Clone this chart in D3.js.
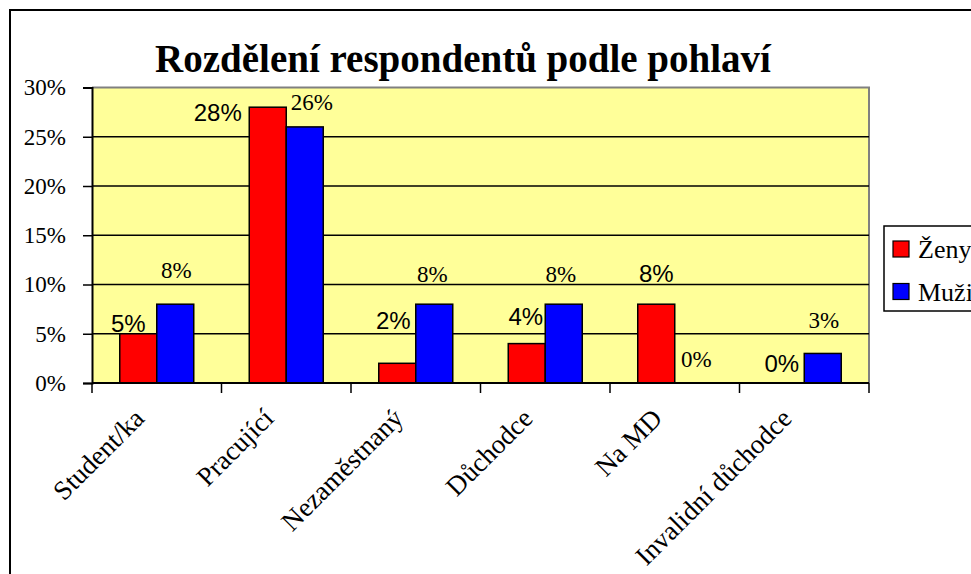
<!DOCTYPE html>
<html>
<head>
<meta charset="utf-8">
<script src="https://cdn.jsdelivr.net/npm/d3@7"></script>
<style>
  body { margin: 0; background: #fff; }
  svg { display: block; }
</style>
</head>
<body>
<svg id="chart_svg" width="971" height="574"></svg>
<script>
// data
var categories = ["Student/ka", "Pracující", "Nezaměstnaný", "Důchodce", "Na MD", "Invalidní důchodce"];
var series = ["Ženy", "Muži"];
var zeny = [5, 28, 2, 4, 8, 0];
var muzi = [8, 26, 8, 8, 0, 3];
var yTicks = [0, 5, 10, 15, 20, 25, 30];

// label nudges (dx, dy from bar top centre), dragged by hand in the original
var zenyNudge = [[-10, -2], [-50, 14], [-4, -34], [-1, -19], [0, -22], [-4, -11]];
var muziNudge = [[1, -26], [7, -17], [-2, -22], [-3, -22], [3, -16], [1, -25]];

var g_colors = { "Ženy": "#ff0000", "Muži": "#0000ff" };
var g_plot = { left: 92, right: 869, top: 87.5, bottom: 383 };
var SERIF = "'Liberation Serif', 'Times New Roman', serif";
var SANS = "'Liberation Sans', Arial, sans-serif";

draw_chart();

function draw_chart() {
    var svg = d3.select("#chart_svg");

    // outer frame (runs off the right / bottom edge)
    svg.append("rect")
        .attr("x", 10).attr("y", 10).attr("width", 1000).attr("height", 600)
        .attr("style", "fill:#fff; stroke:#000; stroke-width:2");

    // title
    svg.append("text")
        .attr("x", 463).attr("y", 72)
        .attr("text-anchor", "middle")
        .attr("font-family", SERIF).attr("font-size", 39).attr("font-weight", "bold")
        .text("Rozdělení respondentů podle pohlaví");

    // scales
    var x = d3.scaleBand().domain(categories).range([g_plot.left, g_plot.right]).padding(0);
    var xs = d3.scaleBand().domain(series).range([0, x.bandwidth()]).paddingInner(0).paddingOuter(0.75);
    var y = d3.scaleLinear().domain([0, 30]).range([g_plot.bottom, g_plot.top]);

    // plot area
    svg.append("rect")
        .attr("x", g_plot.left).attr("y", g_plot.top)
        .attr("width", g_plot.right - g_plot.left).attr("height", g_plot.bottom - g_plot.top)
        .attr("style", "fill:#ffff99; stroke:none");
    svg.append("path")
        .attr("d", "M" + g_plot.left + "," + g_plot.top + "H" + g_plot.right + "V" + g_plot.bottom)
        .attr("style", "fill:none; stroke:#808080; stroke-width:2");

    // gridlines
    svg.selectAll(".grid").data(yTicks.filter(d => d > 0 && d < 30)).join("line").classed("grid", true)
        .attr("x1", g_plot.left).attr("x2", g_plot.right)
        .attr("y1", d => y(d)).attr("y2", d => y(d))
        .attr("style", "stroke:#000; stroke-width:1.5");

    // bars
    var rows = categories.map((c, i) => ({ cat: c, vals: [zeny[i], muzi[i]] }));
    var grp = svg.selectAll(".grp").data(rows).join("g").classed("grp", true)
        .attr("transform", d => "translate(" + x(d.cat) + ",0)");
    grp.selectAll("rect").data(d => series.map((s, k) => ({ s: s, v: d.vals[k] })))
        .join("rect")
        .attr("x", d => xs(d.s)).attr("width", xs.bandwidth())
        .attr("y", d => y(d.v)).attr("height", d => y(0) - y(d.v))
        .attr("style", d => "fill:" + g_colors[d.s] + "; stroke:#000; stroke-width:1.5");

    // y axis
    var yAxis = d3.axisLeft(y).tickValues(yTicks).tickSize(9).tickPadding(17).tickFormat(d => d + "%");
    var ya = svg.append("g").attr("transform", "translate(" + g_plot.left + ",0)").call(yAxis)
        .attr("font-family", SERIF).attr("font-size", 23);
    ya.select(".domain").attr("style", "stroke:#000; stroke-width:2");
    ya.selectAll(".tick line").attr("style", "stroke:#000; stroke-width:1.5");
    ya.selectAll(".tick text").attr("fill", "#000");

    // x axis: ticks on category boundaries
    svg.append("line")
        .attr("x1", g_plot.left).attr("x2", g_plot.right)
        .attr("y1", y(0)).attr("y2", y(0))
        .attr("style", "stroke:#000; stroke-width:2");
    var bounds = categories.map(c => x(c)).concat([g_plot.right]);
    svg.selectAll(".xtick").data(bounds).join("line").classed("xtick", true)
        .attr("x1", d => d).attr("x2", d => d)
        .attr("y1", y(0)).attr("y2", y(0) + 10)
        .attr("style", "stroke:#000; stroke-width:1.5");
    svg.selectAll(".xlab").data(categories).join("text").classed("xlab", true)
        .attr("transform", d => "translate(" + (x(d) + x.bandwidth() / 2 - 11) + "," + (y(0) + 37) + ") rotate(-45)")
        .attr("text-anchor", "end")
        .attr("font-family", SERIF).attr("font-size", 27)
        .text(d => d);

    // data labels: Ženy in sans, Muži in serif, as in the original
    svg.selectAll(".lab_z").data(zeny).join("text").classed("lab_z", true)
        .attr("x", (d, i) => x(categories[i]) + xs("Ženy") + xs.bandwidth() / 2 + zenyNudge[i][0])
        .attr("y", (d, i) => y(d) + zenyNudge[i][1])
        .attr("text-anchor", "middle")
        .attr("font-family", SANS).attr("font-size", 24)
        .text(d => d + "%");
    svg.selectAll(".lab_m").data(muzi).join("text").classed("lab_m", true)
        .attr("x", (d, i) => x(categories[i]) + xs("Muži") + xs.bandwidth() / 2 + muziNudge[i][0])
        .attr("y", (d, i) => y(d) + muziNudge[i][1])
        .attr("text-anchor", "middle")
        .attr("font-family", SERIF).attr("font-size", 23)
        .text(d => d + "%");

    // legend (cut by the right edge, as in the original)
    var lg = svg.append("g").attr("transform", "translate(884,226)");
    lg.append("rect").attr("width", 120).attr("height", 85)
        .attr("style", "fill:#fff; stroke:#000; stroke-width:1.5");
    var item = lg.selectAll(".item").data(series).join("g").classed("item", true)
        .attr("transform", (d, i) => "translate(9," + (15 + i * 42.5) + ")");
    item.append("rect").attr("width", 16).attr("height", 16)
        .attr("style", d => "fill:" + g_colors[d] + "; stroke:#000; stroke-width:1.2");
    item.append("text").attr("x", 25).attr("y", 17)
        .attr("font-family", SERIF).attr("font-size", 26)
        .text(d => d);
}
</script>
</body>
</html>
